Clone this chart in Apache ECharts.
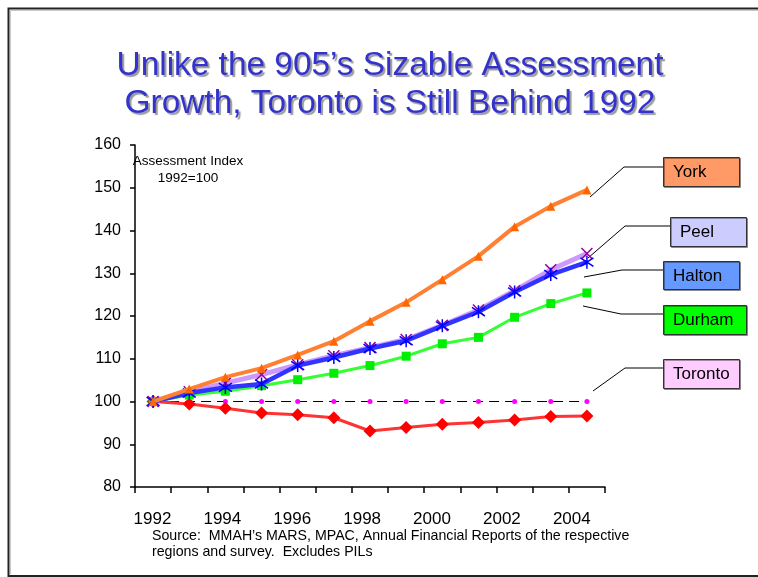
<!DOCTYPE html>
<html>
<head>
<meta charset="utf-8">
<script src="https://cdn.jsdelivr.net/npm/echarts@6/dist/echarts.min.js"></script>
<style>
  html, body { margin: 0; padding: 0; background: #ffffff; }
  #chart { width: 758px; height: 577px; }
</style>
</head>
<body>
<div id="chart"></div>
<script>
// Assessment index by region, 1992 = 100
const years = ['1992','1993','1994','1995','1996','1997','1998','1999','2000','2001','2002','2003','2004'];
const yearLabels = [1992, 1994, 1996, 1998, 2000, 2002, 2004];
const york    = [100, 102.9, 105.7, 107.8, 110.9, 114.1, 118.8, 123.2, 128.5, 134.0, 140.9, 145.7, 149.5];
const peel    = [100, 102.3, 104.3, 106.3, 108.6, 110.7, 112.6, 114.5, 117.8, 121.4, 125.9, 130.8, 134.6];
const halton  = [100, 102.0, 103.3, 104.1, 108.4, 110.3, 112.4, 114.2, 117.7, 121.0, 125.6, 129.7, 132.6];
const durham  = [100, 101.5, 102.4, 103.7, 105.1, 106.6, 108.4, 110.6, 113.5, 115.0, 119.7, 122.9, 125.4];
const toronto = [100, 99.4, 98.4, 97.3, 96.9, 96.2, 93.1, 93.9, 94.7, 95.1, 95.7, 96.5, 96.6];
const base1992 = [100, 100, 100, 100, 100, 100, 100, 100, 100, 100, 100, 100, 100];

const regionNames = ['York', 'Peel', 'Halton', 'Durham', 'Toronto'];

const FONT = 'Arial, "Liberation Sans", sans-serif';
const crossPath = 'path://M0,0L10,10M10,0L0,10';
const asteriskPath = 'path://M0,1L10,9M10,1L0,9M5,-1L5,11';

const chart = echarts.init(document.getElementById('chart'), null, { renderer: 'canvas' });

// Callout boxes with leader lines on the right
const boxes = [
  { name: regionNames[0], x: 663, y: 157, w: 76, h: 29, fill: '#ff9966', line: [[590, 197], [624, 167], [663, 167]] },
  { name: regionNames[1], x: 670, y: 217, w: 76, h: 29, fill: '#ccccff', line: [[588, 258], [625, 226], [670, 226]] },
  { name: regionNames[2], x: 663, y: 261, w: 76, h: 28, fill: '#6699ff', line: [[584, 277], [622, 270], [663, 270]] },
  { name: regionNames[3], x: 663, y: 305, w: 83, h: 29, fill: '#00ff00', line: [[583, 306], [621, 314], [663, 314]] },
  { name: regionNames[4], x: 663, y: 359, w: 76, h: 29, fill: '#ffccff', line: [[593, 391], [625, 368], [663, 368]] }
];

const graphics = [];
// outer frame
graphics.push({ type: 'polyline', shape: { points: [[760, 8.5], [8.5, 8.5], [8.5, 576], [760, 576]] },
  style: { stroke: '#222', lineWidth: 2, fill: null }, silent: true });
graphics.push({ type: 'polyline', shape: { points: [[760, 10.5], [10.5, 10.5], [10.5, 574]] },
  style: { stroke: '#c8c8c8', lineWidth: 1, fill: null }, silent: true });

// title
graphics.push({
  type: 'text', x: 390, y: 47,
  style: {
    text: 'Unlike the 905\u2019s Sizable Assessment\nGrowth, Toronto is Still Behind 1992',
    fill: '#3333cc', font: '33.4px ' + FONT, lineHeight: 38,
    textAlign: 'center', textVerticalAlign: 'top',
    textShadowColor: 'rgba(120,120,120,0.75)', textShadowOffsetX: 2, textShadowOffsetY: 2, textShadowBlur: 1
  }
});

// axis note
graphics.push({
  type: 'text', x: 188, y: 153,
  style: { text: 'Assessment Index\n1992=100', fill: '#000', font: '13.5px ' + FONT, lineHeight: 17,
    textAlign: 'center', textVerticalAlign: 'top' }
});

// source note
graphics.push({
  type: 'text', x: 152, y: 528,
  style: { text: 'Source:  MMAH\u2019s MARS, MPAC, Annual Financial Reports of the respective\nregions and survey.  Excludes PILs',
    fill: '#000', font: '14.2px ' + FONT, lineHeight: 16, textAlign: 'left', textVerticalAlign: 'top' }
});

boxes.forEach(b => {
  graphics.push({ type: 'polyline', shape: { points: b.line }, style: { stroke: '#000', lineWidth: 1, fill: null }, silent: true });
  graphics.push({ type: 'rect', shape: { x: b.x + 0.5, y: b.y + 0.5, width: b.w, height: b.h },
    style: { fill: b.fill, stroke: '#333', lineWidth: 1, shadowColor: 'rgba(0,0,0,0.35)', shadowOffsetX: 1, shadowOffsetY: 1 } });
  graphics.push({ type: 'text', x: b.x + 10, y: b.y + b.h / 2 + 1,
    style: { text: b.name, fill: '#000', font: '17px ' + FONT, textAlign: 'left', textVerticalAlign: 'middle' } });
});

chart.setOption({
  backgroundColor: '#ffffff',
  animation: false,
  grid: { left: 135, right: 153, top: 145, bottom: 90, containLabel: false },
  xAxis: [
    {
      type: 'category', data: years, boundaryGap: true,
      axisLine: { lineStyle: { color: '#000', width: 1.5 } },
      axisTick: { show: true, alignWithLabel: false, length: 6, lineStyle: { color: '#000', width: 1.5 } },
      axisLabel: { show: false },
      splitLine: { show: false }
    },
    {
      // year labels every second year
      type: 'value', position: 'bottom', min: 1991.5, max: 2004.95,
      axisLine: { show: false }, axisTick: { show: false }, splitLine: { show: false },
      axisLabel: {
        show: true, customValues: yearLabels, margin: 24,
        formatter: v => String(v), color: '#000', fontSize: 17, fontFamily: FONT
      }
    }
  ],
  yAxis: {
    type: 'value', min: 80, max: 160, interval: 10,
    axisLine: { show: true, lineStyle: { color: '#000', width: 1.5 } },
    axisTick: { show: true, length: 5, lineStyle: { color: '#000', width: 1.5 } },
    axisLabel: { color: '#000', fontSize: 16, fontFamily: FONT, margin: 14 },
    splitLine: { show: false }
  },
  graphic: graphics,
  series: [
    {
      name: 'Baseline', type: 'line', data: base1992, xAxisIndex: 0,
      symbol: 'circle', symbolSize: 5,
      lineStyle: { color: '#000', width: 1, type: [10, 6] },
      itemStyle: { color: '#ff00ff' }, z: 2
    },
    {
      name: regionNames[4], type: 'line', data: toronto, xAxisIndex: 0,
      symbol: 'diamond', symbolSize: 13,
      lineStyle: { color: '#ff3333', width: 3 },
      itemStyle: { color: '#ff0000' }, z: 3
    },
    {
      name: regionNames[3], type: 'line', data: durham, xAxisIndex: 0,
      symbol: 'rect', symbolSize: 9,
      lineStyle: { color: '#33ff33', width: 3 },
      itemStyle: { color: '#00ee00' }, z: 4
    },
    {
      name: regionNames[1], type: 'line', data: peel, xAxisIndex: 0,
      symbol: crossPath, symbolSize: 11,
      lineStyle: { color: '#cc99ff', width: 5 },
      itemStyle: { color: 'transparent', borderColor: '#990099', borderWidth: 1.5 }, z: 5
    },
    {
      name: regionNames[2], type: 'line', data: halton, xAxisIndex: 0,
      symbol: asteriskPath, symbolSize: 13,
      lineStyle: { color: '#3333ff', width: 4.5 },
      itemStyle: { color: 'transparent', borderColor: '#0000ff', borderWidth: 1.5 }, z: 6
    },
    {
      name: regionNames[0], type: 'line', data: york, xAxisIndex: 0,
      symbol: 'triangle', symbolSize: 9,
      lineStyle: { color: '#ff8033', width: 4 },
      itemStyle: { color: '#ff6600' }, z: 7
    }
  ]
});
</script>
</body>
</html>
